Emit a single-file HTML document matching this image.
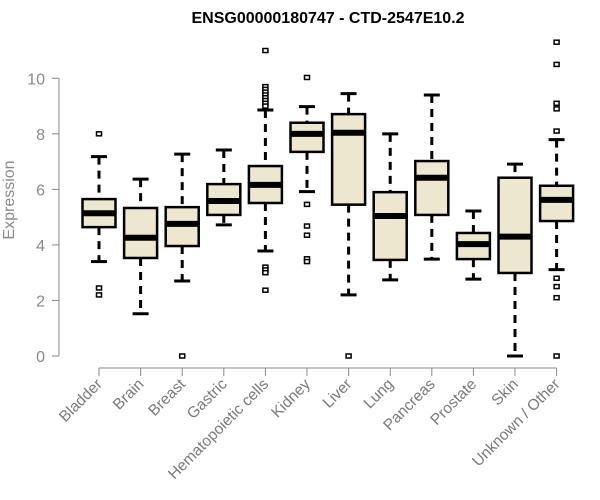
<!DOCTYPE html>
<html><head><meta charset="utf-8"><style>
body{margin:0;background:#fff;}
svg{display:block;font-family:"Liberation Sans",sans-serif;}
</style></head><body>
<svg id="chart" width="600" height="500">
<text x="328" y="23" text-anchor="middle" font-weight="bold" font-size="16" fill="#000">ENSG00000180747 - CTD-2547E10.2</text>
<text transform="translate(14,200) rotate(-90)" text-anchor="middle" font-size="16" fill="#8a8a8a">Expression</text>
<g id="yaxis"></g>
<g id="xaxis"></g>
<g id="boxes"></g>
</svg>
<script>
const categories=["Bladder","Brain","Breast","Gastric","Hematopoietic cells","Kidney","Liver","Lung","Pancreas","Prostate","Skin","Unknown / Other"];
const whiskerLow=[3.40,1.52,2.70,4.72,3.78,5.92,2.20,2.74,3.49,2.77,0.00,3.11];
const q1=[4.64,3.53,3.96,5.08,5.51,7.35,5.45,3.46,5.08,3.49,2.99,4.86];
const median=[5.14,4.26,4.76,5.58,6.16,8.00,8.04,5.04,6.42,4.03,4.30,5.62];
const q3=[5.65,5.33,5.36,6.19,6.84,8.40,8.71,5.90,7.02,4.43,6.42,6.13];
const whiskerHigh=[7.18,6.37,7.27,7.42,8.86,8.98,9.45,8.00,9.40,5.22,6.91,7.79];
const outliers=[[8.0,2.45,2.2],[],[0],[],[11.0,9.7,9.6,9.5,9.4,9.3,9.2,9.1,9.0,3.2,3.1,3.0,2.37],[10.03,5.46,4.68,4.35,3.5,3.4],[0],[],[],[],[],[11.3,10.5,9.1,8.9,8.1,2.8,2.5,2.1,0]];
const yTicks=[0,2,4,6,8,10];
const NS="http://www.w3.org/2000/svg";
function y(v){return 356-v*27.77;}
function x(i){return 99+i*41.6;}
function mk(tag,attrs,parent){const e=document.createElementNS(NS,tag);for(const k in attrs)e.setAttribute(k,attrs[k]);parent.appendChild(e);return e;}
const ya=document.getElementById('yaxis'),xa=document.getElementById('xaxis'),bx=document.getElementById('boxes');
const yl=mk('line',{x1:59,x2:59,y1:y(0),y2:y(10),stroke:'#888','stroke-width':1},ya);


yTicks.forEach(t=>{
 const l=mk('line',{x1:52,x2:59,y1:y(t),y2:y(t),stroke:'#888'},ya);
 
 
 const tx=mk('text',{x:45,y:y(t)+6,'text-anchor':'end','font-size':16,fill:'#8a8a8a'},ya);
 tx.textContent=t;
 
 
});
const xl=mk('line',{x1:x(0),x2:x(categories.length-1),y1:368,y2:368,stroke:'#888'},xa);


categories.forEach((c,i)=>{
 const cx=x(i);
 const t=mk('line',{x1:cx,x2:cx,y1:368,y2:376,stroke:'#888'},xa);
 
 
 const tx=mk('text',{x:cx+4,y:385,'text-anchor':'end','font-size':15.5,fill:'#7a7a7a',transform:`rotate(-45 ${cx+4} 385)`},xa);
 tx.textContent=c;
 
 
 const g=mk('g',{},bx);
 
 
 const hw=16.5;
 mk('line',{x1:cx,x2:cx,y1:y(whiskerHigh[i]),y2:y(q3[i]),stroke:'#000','stroke-width':3,'stroke-dasharray':'8,6'},g);
 mk('line',{x1:cx,x2:cx,y1:y(q1[i]),y2:y(whiskerLow[i]),stroke:'#000','stroke-width':3,'stroke-dasharray':'8,6'},g);
 mk('line',{x1:cx-8,x2:cx+8,y1:y(whiskerHigh[i]),y2:y(whiskerHigh[i]),stroke:'#000','stroke-width':3},g);
 mk('line',{x1:cx-8,x2:cx+8,y1:y(whiskerLow[i]),y2:y(whiskerLow[i]),stroke:'#000','stroke-width':3},g);
 mk('rect',{x:cx-hw,y:y(q3[i]),width:2*hw,height:y(q1[i])-y(q3[i]),fill:'#ede7cf',stroke:'#000','stroke-width':2.5},g);
 mk('line',{x1:cx-hw,x2:cx+hw,y1:y(median[i]),y2:y(median[i]),stroke:'#000','stroke-width':6},g);
 outliers[i].forEach(o=>{
  const r=mk('rect',{x:cx-2.5,y:y(o)-2,width:5,height:4,fill:'#fff',stroke:'#000','stroke-width':1.5},g);
  
  
 });
});
</script>
</body></html>
